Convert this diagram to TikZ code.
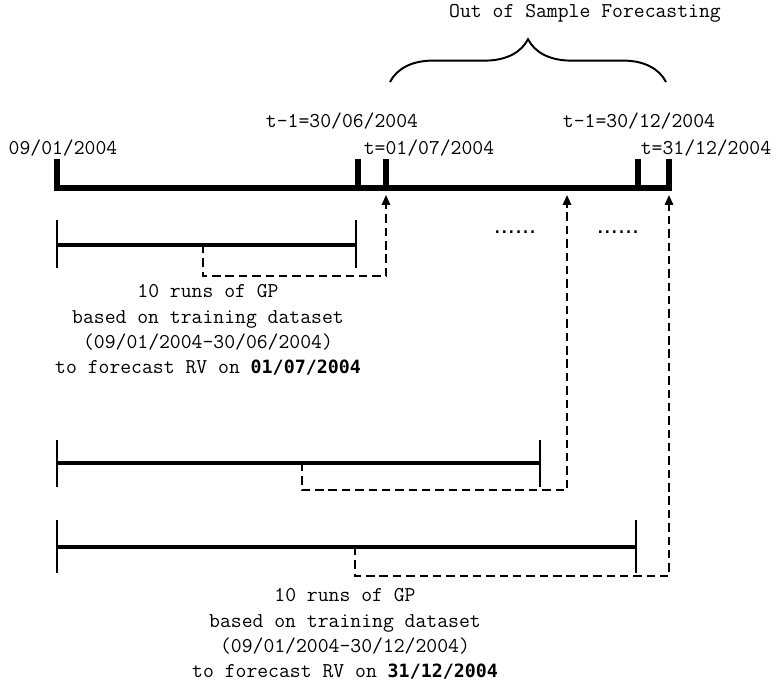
\documentclass[tikz,border=0pt]{standalone}
\usepackage{fontspec}
\newfontfamily\datefont{DejaVu Sans Mono}
\newfontfamily\dotfont{Liberation Sans}
\usetikzlibrary{decorations.pathreplacing,arrows.meta}
\tikzset{
  txt/.style={font=\ttfamily\fontsize{15}{18}\selectfont,inner sep=0pt},
  axis/.style={line width=4pt},
  span/.style={line width=2.8pt},
  endmark/.style={line width=1.3pt},
  link/.style={line width=1.2pt,dash pattern=on 6pt off 3.5pt,-{Triangle[length=7pt,width=6pt]},shorten >=5pt}
}
\begin{document}
\begin{tikzpicture}[x=0.025cm,y=-0.025cm]
\useasboundingbox (0,0) rectangle (776,683);
\coordinate (t0) at (57,188);
\coordinate (tA) at (358,188);
\coordinate (tB) at (386,188);
\coordinate (tM) at (567,188);
\coordinate (tC) at (638,188);
\coordinate (tD) at (669,188);
\draw[axis] (57,159)--(t0)--(tD)--(669,159);
\foreach \x in {358,386,638} \draw[axis] (\x,159)--(\x,188);
\node[txt] (start) at (63,148) {09/01/2004};
\node[txt] (prevA) at (342,121) {t-1=30/06/2004};
\node[txt] (dayA) at (429,148) {t=01/07/2004};
\node[txt] (prevB) at (639,121) {t-1=30/12/2004};
\node[txt] (dayB) at (706,148) {t=31/12/2004};
\coordinate (bl) at (390,82);
\coordinate (br) at (666,82);
\draw[line width=1.4pt,decorate,decoration={brace,amplitude=1.07cm}] (bl)--(br);
\node[txt] (oos) at (585,13) {Out of Sample Forecasting};
\node[font=\dotfont\fontsize{18}{20}\selectfont,inner sep=0pt] (dotsA) at (515,232) {......};
\node[font=\dotfont\fontsize{18}{20}\selectfont,inner sep=0pt] (dotsB) at (618,232) {......};
\coordinate (r1a) at (57,245);
\coordinate (r1b) at (356,245);
\coordinate (r1m) at (203,245);
\draw[span] (r1a)--(r1b);
\draw[endmark] (57,220)--(57,268) (356,220)--(356,268);
\draw[link] (r1m)--++(0,31)-|(tB);
\node[txt,align=center] (runA) at (208,330) {10 runs of GP\\based on training dataset\\(09/01/2004-30/06/2004)\\to forecast RV on {\datefont\bfseries\fontsize{13}{18}\selectfont 01/07/2004}};
\coordinate (r2a) at (57,463);
\coordinate (r2b) at (540,463);
\coordinate (r2m) at (302,463);
\draw[span] (r2a)--(r2b);
\draw[endmark] (57,440)--(57,487) (540,440)--(540,487);
\draw[link] (r2m)--++(0,27)-|(tM);
\coordinate (r3a) at (57,547);
\coordinate (r3b) at (636,547);
\coordinate (r3m) at (355,547);
\draw[span] (r3a)--(r3b);
\draw[endmark] (57,520)--(57,573) (636,520)--(636,573);
\draw[link] (r3m)--++(0,29)-|(tD);
\node[txt,align=center] (runB) at (345,634) {10 runs of GP\\based on training dataset\\(09/01/2004-30/12/2004)\\to forecast RV on {\datefont\bfseries\fontsize{13}{18}\selectfont 31/12/2004}};
\end{tikzpicture}
\end{document}
